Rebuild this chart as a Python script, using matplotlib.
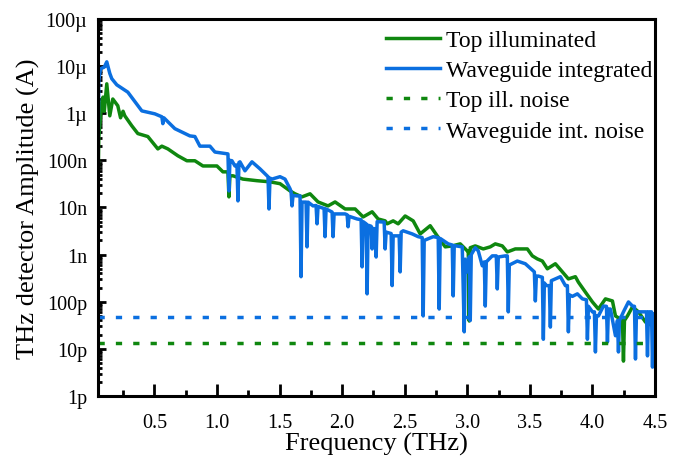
import numpy as np
import matplotlib
matplotlib.use("Agg")
import matplotlib.pyplot as plt
from matplotlib.ticker import FixedLocator, FuncFormatter, LogLocator, NullFormatter

plt.rcParams['font.family'] = ['Liberation Serif', 'DejaVu Serif']

# Top illuminated spectrum (THz, A)
top_freq = [0.05, 0.056, 0.08, 0.09, 0.10, 0.12, 0.144, 0.168, 0.208, 0.23, 0.25, 0.264,
            0.32, 0.368, 0.448, 0.528, 0.56, 0.608, 0.688, 0.76, 0.824, 0.888, 1.00, 1.048,
            1.088, 1.096, 1.104, 1.128, 1.208, 1.32, 1.424, 1.504, 1.584, 1.624, 1.68, 1.744, 1.808, 1.888,
            1.944, 2.024, 2.104, 2.168, 2.24, 2.288, 2.344, 2.36, 2.408, 2.448, 2.504, 2.568,
            2.624, 2.704, 2.76, 2.824, 2.88, 2.944, 3.00, 3.008, 3.016, 3.024, 3.064, 3.128, 3.184, 3.224,
            3.28, 3.32, 3.384, 3.48, 3.52, 3.56, 3.60, 3.64, 3.704, 3.76, 3.808, 3.864, 3.888,
            3.944, 4.00, 4.048, 4.104, 4.16, 4.184, 4.24, 4.248, 4.256, 4.28, 4.32, 4.368, 4.424, 4.48, 4.50]
top_amp = [2.5e-8, 3.0e-7, 1.75e-6, 2.2e-6, 1.1e-6, 4.2e-6, 8.8e-7, 2.0e-6, 1.44e-6, 8.0e-7, 1.1e-6, 8.8e-7,
           5.4e-7, 3.7e-7, 3.2e-7, 1.75e-7, 2.0e-7, 1.75e-7, 1.25e-7, 9.8e-8, 9.8e-8, 7.6e-8, 7.6e-8, 5.7e-8,
           5.7e-8, 1.68e-8, 4.7e-8, 4.7e-8, 4.0e-8, 3.7e-8, 3.5e-8, 3.2e-8, 2.25e-8, 1.95e-8, 1.68e-8, 1.95e-8, 1.31e-8, 1.08e-8,
           1.31e-8, 9.3e-9, 9.3e-9, 6.3e-9, 8.1e-9, 5.7e-9, 5.2e-9, 4.5e-9, 5.2e-9, 4.5e-9, 6.6e-9, 5.2e-9,
           2.75e-9, 4.1e-9, 2.5e-9, 1.46e-9, 1.53e-9, 1.69e-9, 1.2e-9, 1.2e-9, 3.9e-11, 1.4e-9, 1.53e-9, 1.32e-9, 1.46e-9, 1.69e-9,
           1.53e-9, 1.14e-9, 1.32e-9, 1.32e-9, 9.4e-10, 8.1e-10, 7.3e-10, 5.0e-10, 6.4e-10, 4.3e-10, 3.05e-10, 3.4e-10, 2.6e-10,
           1.6e-10, 9.9e-11, 7.0e-11, 1.15e-10, 1.04e-10, 5.0e-11, 4.0e-11, 5.5e-12, 4.0e-11, 5.0e-11, 7.8e-11, 6.1e-11, 3.7e-11,
           3.1e-11, 2.9e-11]

# Waveguide integrated spectrum (THz, A)
wg_freq = [0.05, 0.056, 0.07, 0.10, 0.12, 0.144, 0.16, 0.20, 0.288, 0.40, 0.504, 0.56, 0.568, 0.576,
           0.664, 0.744, 0.784, 0.824, 0.864, 0.944, 0.984, 1.088, 1.096, 1.104, 1.12, 1.144, 1.16, 1.168,
           1.176, 1.184, 1.224, 1.28, 1.344, 1.408, 1.416, 1.424, 1.44, 1.504, 1.544, 1.584, 1.592, 1.60,
           1.608, 1.64, 1.664, 1.672, 1.68, 1.712, 1.72, 1.728, 1.768, 1.792, 1.80, 1.808, 1.856, 1.864,
           1.872, 1.92, 1.928, 1.936, 2.024, 2.04, 2.048, 2.056, 2.12, 2.152, 2.16, 2.168, 2.192, 2.20,
           2.208, 2.232, 2.24, 2.248, 2.264, 2.272, 2.28, 2.336, 2.344, 2.352, 2.392, 2.40, 2.408, 2.456,
           2.464, 2.472, 2.488, 2.56, 2.608, 2.64, 2.648, 2.656, 2.728, 2.768, 2.776, 2.784, 2.848, 2.88,
           2.888, 2.896, 2.96, 2.976, 2.984, 3.0, 3.016, 3.024, 3.032, 3.064, 3.088, 3.12, 3.136, 3.144,
           3.152, 3.20, 3.232, 3.24, 3.248, 3.304, 3.32, 3.328, 3.336, 3.40, 3.464, 3.536, 3.544, 3.552,
           3.568, 3.60, 3.608, 3.616, 3.632, 3.656, 3.664, 3.672, 3.704, 3.744, 3.784, 3.80, 3.808, 3.816,
           3.84, 3.88, 3.92, 3.952, 3.96, 3.968, 4.00, 4.016, 4.024, 4.032, 4.048, 4.088, 4.112, 4.12,
           4.128, 4.144, 4.184, 4.20, 4.208, 4.216, 4.248, 4.288, 4.32, 4.336, 4.344, 4.352, 4.368, 4.408,
           4.432, 4.44, 4.448, 4.472, 4.48, 4.488, 4.50]
wg_amp = [6e-8, 5.0e-6, 8.8e-6, 9.5e-6, 1.23e-5, 7.0e-6, 5.4e-6, 4.0e-6, 2.8e-6, 1.12e-6, 9.7e-7, 8.4e-7, 6.0e-7, 8.0e-7,
          4.7e-7, 3.7e-7, 3.3e-7, 3.2e-7, 2.0e-7, 2.0e-7, 1.5e-7, 1.37e-7, 2.25e-8, 1.0e-7, 9.8e-8, 7.6e-8, 8.0e-8, 1.38e-8,
          9.0e-8, 9.3e-8, 6.0e-8, 9.3e-8, 6.6e-8, 4.5e-8, 9.3e-9, 4.2e-8, 4.0e-8, 4.5e-8, 4.0e-8, 2.5e-8, 2.2e-8, 1.08e-8,
          1.8e-8, 1.76e-8, 1.76e-8, 3.4e-10, 1.3e-8, 1.3e-8, 1.46e-9, 1.3e-8, 1.08e-8, 1.1e-8, 4.5e-9, 1.05e-8, 9.5e-9, 2.4e-9,
          9.3e-9, 8.0e-9, 2.4e-9, 7.3e-9, 7.3e-9, 7.0e-9, 3.9e-9, 6.5e-9, 5.7e-9, 5.5e-9, 5.5e-10, 5.0e-9, 4.5e-9, 1.47e-10,
          4.2e-9, 4.0e-9, 1.32e-9, 3.6e-9, 3.5e-9, 8.9e-10, 5.0e-9, 4.9e-9, 1.32e-9, 3.0e-9, 2.8e-9, 2.2e-10, 2.5e-9, 2.5e-9,
          4.3e-10, 3.0e-9, 3.2e-9, 2.75e-9, 2.4e-9, 2.3e-9, 5.0e-11, 2.0e-9, 2.4e-9, 2.3e-9, 7.0e-11, 2.2e-9, 1.69e-9, 1.6e-9,
          1.33e-10, 1.55e-9, 1.46e-9, 2.3e-11, 8.0e-10, 4.3e-10, 9.0e-10, 4.0e-11, 1.0e-9, 1.4e-9, 1.2e-9, 5.8e-10, 7.0e-10, 8.1e-11,
          7.0e-10, 9.4e-10, 9.4e-10, 1.87e-10, 8.9e-10, 9.4e-10, 9.4e-10, 6.1e-11, 6.0e-10, 7.3e-10, 6.4e-10, 4.3e-10, 1.04e-10, 3.5e-10,
          3.5e-10, 3.3e-10, 1.6e-11, 2.5e-10, 2.2e-10, 2.2e-10, 2.9e-11, 2.8e-10, 3.05e-10, 3.4e-10, 2.2e-10, 2.2e-10, 2.3e-11, 1.4e-10,
          1.3e-10, 1.47e-10, 1.15e-10, 1.1e-10, 1.6e-11, 8.0e-11, 6.1e-11, 6.1e-11, 8.6e-12, 5.0e-11, 5.0e-11, 8.1e-11, 8.0e-11, 1.4e-11,
          7.0e-11, 7.0e-11, 1.9e-11, 4.0e-11, 8.6e-12, 4.0e-11, 6.1e-11, 9.9e-11, 8.1e-11, 8.0e-11, 6.1e-12, 6.1e-11, 6.1e-11, 6.1e-11,
          6.1e-11, 7.1e-12, 6.1e-11, 6.1e-11, 4.1e-12, 5.5e-11, 5.5e-11]

top_noise = 1.3e-11
wg_noise = 4.7e-11

green = '#0f870f'
blue = '#0b6fe0'

fig = plt.figure(figsize=(6.84, 4.64), dpi=100)
ax = fig.add_axes([0.1433, 0.1444, 0.8143, 0.8126])

ax.plot(top_freq, top_amp, color=green, lw=2.5, label='Top illuminated')
ax.plot(wg_freq, wg_amp, color=blue, lw=2.5, label='Waveguide integrated')
ax.plot([0.05, 4.5], [top_noise, top_noise], color=green, lw=2.5, ls=(0, (1.8, 3.2)), label='Top ill. noise')
ax.plot([0.05, 4.5], [wg_noise, wg_noise], color=blue, lw=2.5, ls=(0, (1.8, 3.2)), label='Waveguide int. noise')

ax.set_yscale('log')
ax.set_xlim(0.05, 4.5)
ax.set_ylim(1e-12, 1e-4)

prefixes = {-15: 'f', -12: 'p', -9: 'n', -6: 'µ', -3: 'm', 0: ''}


def fmt_amp(v, pos):
    e = int(round(np.log10(v)))
    base = (e // 3) * 3
    return f"{10 ** (e - base)}{prefixes.get(base, '')}"


ax.yaxis.set_major_locator(LogLocator(base=10, numticks=20))
ax.yaxis.set_major_formatter(FuncFormatter(fmt_amp))
ax.yaxis.set_minor_locator(LogLocator(base=10, subs=np.arange(2, 10), numticks=20))
ax.yaxis.set_minor_formatter(NullFormatter())

ax.xaxis.set_major_locator(FixedLocator([0.5, 1.0, 1.5, 2.0, 2.5, 3.0, 3.5, 4.0, 4.5]))
ax.xaxis.set_major_formatter(FuncFormatter(lambda v, p: f"{v:.1f}"))
ax.xaxis.set_minor_locator(FixedLocator(np.arange(0.25, 4.5, 0.5)))

ax.tick_params(axis='both', which='both', direction='in', width=2, labelsize=14.5)
ax.tick_params(axis='x', which='major', length=9, pad=12)
ax.tick_params(axis='x', which='minor', length=4.5)
ax.tick_params(axis='y', which='major', length=6, pad=8)
ax.tick_params(axis='y', which='minor', length=3)
for s in ax.spines.values():
    s.set_linewidth(2.2)

ax.set_xlabel('Frequency (THz)', fontsize=19, labelpad=0)
ax.set_ylabel('THz detector Amplitude (A)', fontsize=19, labelpad=4)

ax.legend(loc='upper right', bbox_to_anchor=(1.021, 1.01), frameon=False, fontsize=17,
          handlelength=2.3, handletextpad=0.25, labelspacing=0.37, borderaxespad=0.2)

fig.savefig('out.png', dpi=100)
